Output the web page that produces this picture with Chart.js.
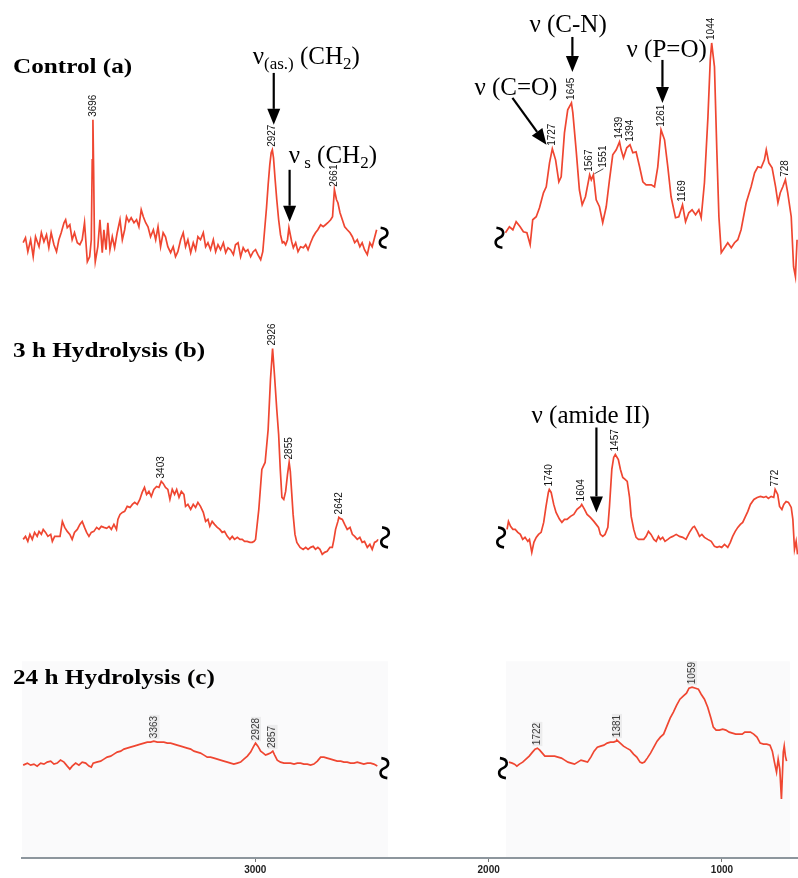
<!DOCTYPE html>
<html>
<head>
<meta charset="utf-8">
<title>FTIR spectra</title>
<script src="https://cdn.jsdelivr.net/npm/chart.js@4/dist/chart.umd.min.js"></script>
<style>
  html, body { margin: 0; padding: 0; background: #fff; }
  #wrap { width: 798px; height: 878px; }
</style>
</head>
<body>
<div id="wrap"><canvas id="irChart" width="798" height="878"></canvas></div>
<script>
// wavenumber (cm-1), absorbance (a.u.)
const controlLow = [[3995,37],[3985,42],[3975,28],[3963,40],[3952,23],[3942,43],[3927,33],[3917,47],[3906,38],[3895,45],[3885,32],[3875,47],[3863,35],[3852,28],[3842,40],[3832,47],[3820,57],[3813,60],[3806,52],[3795,55],[3785,40],[3775,47],[3763,37],[3752,35],[3742,40],[3732,57],[3720,18],[3710,23],[3703,40],[3699,120],[3696,160],[3693,110],[3689,30],[3686,18],[3675,33],[3666,60],[3656,27],[3649,50],[3640,30],[3632,57],[3623,30],[3613,43],[3603,32],[3592,47],[3580,60],[3570,40],[3560,50],[3552,63],[3542,58],[3532,62],[3520,57],[3509,60],[3499,53],[3489,70],[3480,63],[3470,57],[3460,53],[3449,43],[3437,50],[3427,40],[3417,53],[3406,33],[3395,47],[3385,43],[3375,33],[3363,27],[3352,33],[3342,23],[3332,28],[3320,40],[3309,47],[3299,33],[3289,40],[3277,27],[3266,37],[3256,30],[3246,43],[3235,40],[3223,47],[3213,33],[3203,37],[3192,30],[3180,40],[3170,28],[3160,35],[3149,30],[3137,37],[3127,27],[3117,32],[3106,30],[3094,25],[3085,35],[3074,37],[3063,23],[3052,32],[3042,28],[3032,30],[3020,23],[3009,28],[2999,30],[2989,25],[2977,20],[2968,28],[2960,50],[2952,72],[2945,95],[2938,115],[2932,127],[2927,130],[2922,122],[2915,100],[2908,80],[2900,60],[2892,45],[2884,37],[2878,38],[2870,35],[2862,40],[2856,52],[2850,45],[2844,38],[2837,32],[2827,37],[2817,28],[2806,33],[2794,32],[2784,35],[2774,30],[2763,37],[2752,43],[2742,47],[2732,50],[2720,55],[2709,53],[2699,55],[2689,57],[2677,60],[2669,63],[2661,90],[2652,80],[2646,77],[2637,67],[2627,60],[2617,53],[2606,50],[2594,47],[2584,43],[2574,37],[2563,40],[2552,33],[2542,37],[2532,30],[2520,25],[2509,37],[2499,33],[2489,42],[2480,50]];
const controlHigh = [[1928,47],[1911,53],[1896,50],[1882,58],[1865,53],[1851,48],[1836,47],[1822,35],[1811,60],[1796,63],[1782,72],[1765,87],[1753,93],[1739,117],[1727,131],[1713,120],[1699,98],[1689,103],[1675,147],[1661,170],[1645,177],[1639,167],[1625,130],[1611,90],[1599,75],[1585,83],[1567,105],[1560,100],[1551,105],[1539,80],[1525,73],[1511,57],[1496,73],[1482,100],[1468,125],[1453,130],[1439,138],[1432,130],[1422,122],[1408,132],[1394,135],[1382,127],[1368,128],[1353,113],[1339,98],[1325,95],[1303,95],[1289,93],[1275,113],[1261,150],[1246,140],[1232,113],[1218,83],[1199,62],[1185,63],[1169,75],[1156,58],[1142,67],[1128,70],[1113,65],[1099,70],[1089,62],[1075,97],[1060,163],[1050,220],[1044,237],[1032,213],[1022,130],[1013,63],[1003,27],[989,32],[975,37],[960,32],[946,37],[932,40],[918,50],[896,77],[875,93],[860,107],[846,113],[832,112],[818,120],[810,130],[799,117],[785,112],[770,93],[760,77],[750,87],[739,93],[728,100],[718,87],[703,63],[693,13],[685,3],[678,40]];

const hydro3Low = [[3995,20],[3985,23],[3975,18],[3966,25],[3956,20],[3946,27],[3935,23],[3927,28],[3917,25],[3909,30],[3899,27],[3889,23],[3877,25],[3870,18],[3860,23],[3849,23],[3837,23],[3827,38],[3817,32],[3806,28],[3795,25],[3785,20],[3775,27],[3763,30],[3752,35],[3742,38],[3732,32],[3723,27],[3713,23],[3703,27],[3692,28],[3680,32],[3670,30],[3660,33],[3649,32],[3637,31],[3627,33],[3617,30],[3606,35],[3595,30],[3589,40],[3580,45],[3570,47],[3560,48],[3549,53],[3537,52],[3527,55],[3517,57],[3506,55],[3495,60],[3485,67],[3475,72],[3466,65],[3456,68],[3446,63],[3435,70],[3423,73],[3413,72],[3403,78],[3395,76],[3385,72],[3375,70],[3366,60],[3356,70],[3346,65],[3337,70],[3327,62],[3317,68],[3306,65],[3299,53],[3289,55],[3277,50],[3266,55],[3256,52],[3246,57],[3235,53],[3223,47],[3213,38],[3203,40],[3195,33],[3185,38],[3175,35],[3163,32],[3152,30],[3142,27],[3132,28],[3120,23],[3109,20],[3099,23],[3089,20],[3077,22],[3066,20],[3056,20],[3046,18],[3035,18],[3023,17],[3013,17],[3005,18],[2999,20],[2985,50],[2972,90],[2958,97],[2945,130],[2935,180],[2926,211],[2918,185],[2908,150],[2900,125],[2893,90],[2886,62],[2878,60],[2870,68],[2862,85],[2855,97],[2850,88],[2845,70],[2838,45],[2830,25],[2822,17],[2808,12],[2795,10],[2784,12],[2774,10],[2763,12],[2752,13],[2742,10],[2732,12],[2723,10],[2713,5],[2703,7],[2692,8],[2680,12],[2670,12],[2663,20],[2656,30],[2646,38],[2642,42],[2637,41],[2627,40],[2617,35],[2606,30],[2594,32],[2584,25],[2574,23],[2563,20],[2552,22],[2542,17],[2532,18],[2520,12],[2509,15],[2499,10],[2489,17],[2480,18],[2474,20]];
const hydro3High = [[1921,30],[1915,38],[1906,33],[1896,30],[1886,30],[1875,27],[1864,25],[1854,20],[1844,22],[1832,18],[1825,20],[1815,7],[1806,17],[1796,22],[1786,25],[1775,27],[1764,37],[1754,53],[1744,67],[1740,70],[1732,67],[1721,55],[1711,47],[1696,40],[1686,37],[1675,40],[1664,40],[1649,43],[1635,45],[1621,50],[1606,53],[1601,55],[1589,50],[1578,45],[1564,42],[1549,38],[1539,35],[1529,32],[1521,25],[1511,23],[1501,25],[1489,32],[1482,53],[1472,90],[1464,102],[1457,105],[1444,100],[1435,90],[1425,82],[1415,80],[1406,78],[1396,62],[1389,43],[1378,30],[1368,22],[1358,20],[1346,20],[1335,20],[1325,23],[1315,28],[1304,25],[1292,20],[1282,18],[1272,23],[1264,20],[1254,22],[1244,18],[1232,20],[1221,22],[1211,23],[1196,25],[1182,23],[1168,22],[1154,20],[1139,27],[1125,32],[1118,33],[1106,28],[1096,23],[1086,25],[1075,22],[1061,20],[1046,18],[1032,13],[1021,12],[1011,13],[1001,12],[989,15],[975,12],[964,17],[954,23],[943,28],[932,32],[921,35],[911,37],[901,42],[889,48],[878,55],[863,60],[849,62],[835,63],[821,62],[811,63],[801,61],[789,63],[778,62],[772,70],[761,65],[753,53],[743,50],[735,55],[725,58],[715,57],[703,52],[696,40],[689,10],[682,18],[676,5]];

const hydro24Low = [[3926,34],[3908,36],[3894,34],[3880,35],[3866,33],[3851,36],[3837,35],[3823,37],[3808,38],[3794,35],[3780,36],[3766,39],[3751,37],[3737,33],[3726,30],[3716,33],[3701,36],[3687,34],[3673,37],[3658,36],[3644,33],[3634,32],[3626,36],[3611,37],[3594,38],[3580,40],[3566,42],[3551,43],[3537,45],[3523,47],[3508,48],[3494,50],[3480,51],[3466,52],[3451,53],[3437,54],[3423,55],[3408,56],[3394,57],[3380,57],[3366,58],[3351,57],[3337,57],[3323,57],[3308,56],[3294,56],[3280,55],[3266,54],[3251,53],[3237,52],[3223,51],[3208,50],[3194,48],[3180,47],[3166,46],[3151,44],[3137,42],[3123,42],[3108,41],[3094,40],[3080,39],[3066,38],[3051,37],[3037,36],[3023,35],[3008,36],[2994,37],[2980,40],[2965,43],[2951,47],[2940,52],[2930,56],[2920,53],[2908,48],[2897,46],[2887,44],[2877,45],[2866,46],[2856,48],[2848,44],[2837,39],[2823,37],[2808,36],[2794,36],[2780,36],[2765,35],[2751,36],[2737,36],[2723,35],[2708,35],[2694,34],[2680,35],[2665,38],[2651,42],[2637,42],[2623,41],[2608,40],[2594,39],[2580,38],[2565,38],[2551,37],[2537,37],[2523,36],[2508,36],[2494,37],[2480,36],[2466,35],[2451,36],[2437,36],[2423,35],[2408,33]];
const hydro24High = [[1844,37],[1830,36],[1820,35],[1810,33],[1799,35],[1785,37],[1771,40],[1757,43],[1743,47],[1732,50],[1722,51],[1712,49],[1701,46],[1690,43],[1676,43],[1662,43],[1648,43],[1634,42],[1619,41],[1605,39],[1591,37],[1577,36],[1563,35],[1549,37],[1535,39],[1521,38],[1507,37],[1493,42],[1479,48],[1465,52],[1451,53],[1437,54],[1423,56],[1409,57],[1395,57],[1385,58],[1381,59],[1367,56],[1353,53],[1339,51],[1324,49],[1310,45],[1296,42],[1282,37],[1273,36],[1263,37],[1251,41],[1237,46],[1223,52],[1209,58],[1195,62],[1181,65],[1167,73],[1153,81],[1139,87],[1125,94],[1111,100],[1097,103],[1083,106],[1072,111],[1059,112],[1044,111],[1032,110],[1020,105],[1006,100],[992,92],[978,81],[968,72],[956,69],[942,69],[928,70],[914,69],[900,67],[886,66],[872,65],[858,65],[844,65],[833,67],[823,67],[809,67],[795,65],[781,62],[767,56],[753,55],[739,55],[725,54],[715,48],[706,37],[697,27],[690,40],[683,30],[676,0],[668,47],[664,53],[659,43],[654,38]];

const controlPeaks = [3696, 2927, 2661, 1727, 1645, 1567, 1551, 1439, 1394, 1261, 1169, 1044, 728];
const hydro3Peaks = [3403, 2926, 2855, 2642, 1740, 1604, 1457, 772];
const hydro24Peaks = [3363, 2928, 2857, 1722, 1381, 1059];
const axisTicks = [3000, 2000, 1000];

const AREA_H = 859;
const lineColor = '#ef4631';
const serif = '"Liberation Serif", "Times New Roman", serif';

const panels = [
  { title: 'Control (a)', titleLevel: 207, breakLevel: 42, x: 'x', y: 'ya', top: 280,
    low: controlLow, high: controlHigh, peaks: controlPeaks, boxed: false },
  { title: '3 h Hydrolysis (b)', titleLevel: 203, breakLevel: 22, x: 'x', y: 'yb', top: 560,
    low: hydro3Low, high: hydro3High, peaks: hydro3Peaks, boxed: false },
  { title: '24 h Hydrolysis (c)', titleLevel: 115, breakLevel: 31, x: 'xc', y: 'yc', top: 800,
    low: hydro24Low, high: hydro24High, peaks: hydro24Peaks, boxed: true }
];

// band assignments: text anchor (wavenumber, level) and arrow (from wn/level to wn/level)
const notes = [
  { panel: 0, wn: 3011, level: 216, parts: [['ν', 0], ['(as.)', 1], [' (CH', 0], ['2', 1], [')', 0]], arrow: [2921, 207, 2921, 155] },
  { panel: 0, wn: 2857, level: 117, parts: [['ν', 0], [' s', 1], [' (CH', 0], ['2', 1], [')', 0]], arrow: [2853, 110, 2853, 58] },
  { panel: 0, wn: 1825, level: 248, parts: [['ν (C-N)', 0]], arrow: [1641, 243, 1641, 208] },
  { panel: 0, wn: 1409, level: 223, parts: [['ν (P=O)', 0]], arrow: [1255, 220, 1255, 177] },
  { panel: 0, wn: 2061, level: 185, parts: [['ν (C=O)', 0]], arrow: [1898, 182, 1752, 135] },
  { panel: 1, wn: 1816, level: 137, parts: [['ν (amide II)', 0]], arrow: [1538, 132, 1538, 47] }
];

const toXY = arr => arr.map(p => ({ x: p[0], y: p[1] }));

const datasets = [];
panels.forEach(p => {
  [p.low, p.high].forEach(seg => {
    datasets.push({
      data: toXY(seg),
      xAxisID: p.x,
      yAxisID: p.y,
      borderColor: lineColor,
      borderWidth: 1.7,
      pointRadius: 0,
      tension: 0,
      fill: false
    });
  });
});

function peakLevel(seg, wn) {
  let best = null;
  seg.forEach(p => {
    if (Math.abs(p[0] - wn) <= 8 && (best === null || p[1] > best)) best = p[1];
  });
  return best;
}

function drawArrow(ctx, x1, y1, x2, y2) {
  const a = Math.atan2(y2 - y1, x2 - x1), L = 16, W = 6.5;
  const bx = x2 - L * Math.cos(a), by = y2 - L * Math.sin(a);
  ctx.lineWidth = 2.2;
  ctx.beginPath(); ctx.moveTo(x1, y1); ctx.lineTo(bx, by); ctx.stroke();
  ctx.beginPath();
  ctx.moveTo(x2, y2);
  ctx.lineTo(bx + W * Math.sin(a), by - W * Math.cos(a));
  ctx.lineTo(bx - W * Math.sin(a), by + W * Math.cos(a));
  ctx.closePath(); ctx.fill();
}

function drawBreak(ctx, cx, cy) {
  ctx.lineWidth = 2.6;
  ctx.beginPath();
  ctx.moveTo(cx - 3, cy - 10);
  ctx.bezierCurveTo(cx + 6, cy - 9, cx + 5, cy - 2, cx, cy);
  ctx.bezierCurveTo(cx - 5, cy + 2, cx - 6, cy + 9, cx + 3, cy + 10);
  ctx.stroke();
}

const overlay = {
  id: 'overlay',
  beforeDraw(chart) {
    const ctx = chart.ctx, xs = chart.scales.xc, ys = chart.scales.yc;
    // very faint panel background of the 24 h spectrum
    ctx.save();
    ctx.fillStyle = '#fafafb';
    [[3931, 2362], [1857, 640]].forEach(r => {
      const x1 = xs.getPixelForValue(r[0]), x2 = xs.getPixelForValue(r[1]);
      const y1 = ys.getPixelForValue(138), y2 = ys.getPixelForValue(-59);
      ctx.fillRect(x1, y1, x2 - x1, y2 - y1);
    });
    ctx.restore();
  },
  afterDatasetsDraw(chart) {
    const ctx = chart.ctx;
    ctx.save();
    ctx.fillStyle = '#000';
    ctx.strokeStyle = '#000';
    panels.forEach(p => {
      const xs = chart.scales[p.x], ys = chart.scales[p.y];
      // title
      ctx.save();
      ctx.translate(13, ys.getPixelForValue(p.titleLevel));
      ctx.scale(1.2, 1);
      ctx.font = 'bold 21px ' + serif;
      ctx.textBaseline = 'alphabetic';
      ctx.fillText(p.title, 0, 0);
      ctx.restore();
      // axis breaks
      const yb = ys.getPixelForValue(p.breakLevel);
      drawBreak(ctx, xs.getPixelForValue(p.low[p.low.length - 1][0]) + 7, yb);
      drawBreak(ctx, xs.getPixelForValue(p.high[0][0]) - 6, yb);
      // peak labels
      ctx.font = '10px "Liberation Sans Narrow", "Arial Narrow", "Liberation Sans", sans-serif';
      p.peaks.forEach(wn => {
        const seg = wn > 2200 ? p.low : p.high;
        const lv = peakLevel(seg, wn);
        const px = xs.getPixelForValue(wn), py = ys.getPixelForValue(lv);
        const dx = (wn === 1551) ? 10 : 0;
        const w = ctx.measureText(String(wn)).width;
        if (dx) {
          ctx.lineWidth = 0.7;
          ctx.beginPath(); ctx.moveTo(px + 1, py - 1); ctx.lineTo(px + dx, py - 6); ctx.stroke();
        }
        ctx.save();
        ctx.translate(px + dx, py - 3 - (dx ? 4 : 0));
        ctx.rotate(-Math.PI / 2);
        if (p.boxed) {
          ctx.fillStyle = '#ececed';
          ctx.fillRect(-1, -5, w + 2, 10);
          ctx.fillStyle = '#3a3a3a';
        } else {
          ctx.fillStyle = '#111';
        }
        ctx.textAlign = 'left';
        ctx.textBaseline = 'middle';
        ctx.fillText(String(wn), 0, 0);
        ctx.restore();
      });
    });
    // band assignments
    notes.forEach(n => {
      const p = panels[n.panel];
      const xs = chart.scales[p.x], ys = chart.scales[p.y];
      let cx = xs.getPixelForValue(n.wn);
      const cy = ys.getPixelForValue(n.level);
      ctx.textBaseline = 'alphabetic';
      n.parts.forEach(([t, sub]) => {
        ctx.font = (sub ? '17px ' : '25px ') + serif;
        ctx.fillText(t, cx, cy + (sub ? 5 : 0));
        cx += ctx.measureText(t).width;
      });
      const a = n.arrow;
      drawArrow(ctx, xs.getPixelForValue(a[0]), ys.getPixelForValue(a[1]),
                xs.getPixelForValue(a[2]), ys.getPixelForValue(a[3]));
    });
    ctx.restore();
  }
};

const panelAxis = top => ({ type: 'linear', display: false, min: top - AREA_H, max: top });

new Chart(document.getElementById('irChart').getContext('2d'), {
  type: 'line',
  data: { datasets: datasets },
  options: {
    responsive: false,
    devicePixelRatio: 1,
    animation: false,
    layout: { padding: { left: 22, right: 0, top: 0, bottom: 0 } },
    plugins: { legend: { display: false }, tooltip: { enabled: false } },
    scales: {
      x: {
        type: 'linear',
        reverse: true,
        min: 674,
        max: 4000,
        afterBuildTicks: scale => { scale.ticks = axisTicks.map(v => ({ value: v })); },
        grid: { drawOnChartArea: false, drawTicks: true, tickLength: 4, color: '#777' },
        border: { display: true, color: '#8d969d', width: 2 },
        ticks: {
          padding: 2,
          color: '#222',
          font: { family: 'Arial, "Liberation Sans", sans-serif', size: 10, weight: 'bold' },
          maxRotation: 0,
          autoSkip: false,
          callback: v => String(v)
        }
      },
      xc: { type: 'linear', display: false, reverse: true, min: 605, max: 3931 },
      ya: panelAxis(panels[0].top),
      yb: panelAxis(panels[1].top),
      yc: panelAxis(panels[2].top)
    }
  },
  plugins: [overlay]
});
</script>
</body>
</html>
